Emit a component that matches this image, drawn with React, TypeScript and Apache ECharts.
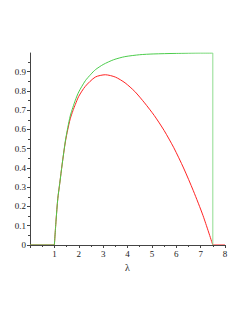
import React, { useEffect, useRef } from "react";
import * as echarts from "echarts";

// green curve (rising part and plateau)
const greenLambda = [1, 1.07, 1.14, 1.22, 1.32, 1.45, 1.55, 1.65, 1.76, 1.86, 2.0, 2.27, 2.5, 2.68, 3.0, 3.43, 3.89, 4.5, 5.05, 6.0, 7.0, 7.5];
const greenValue = [0, 0.13, 0.24, 0.32, 0.42, 0.54, 0.61, 0.67, 0.715, 0.752, 0.795, 0.853, 0.887, 0.91, 0.937, 0.962, 0.978, 0.988, 0.992, 0.995, 0.997, 0.997];
// green vertical drop at the end
const greenDropLambda = [7.5, 7.5];
const greenDropValue = [0.997, 0];

// red curve
const redLambda = [1, 1.07, 1.14, 1.22, 1.32, 1.45, 1.55, 1.65, 1.76, 1.86, 2.0, 2.27, 2.68, 3.09, 3.5, 3.9, 4.3, 4.7, 5.1, 5.5, 5.9, 6.3, 6.7, 7.1, 7.5];
const redValue = [0, 0.13, 0.24, 0.32, 0.42, 0.535, 0.6, 0.655, 0.697, 0.73, 0.772, 0.824, 0.872, 0.884, 0.872, 0.842, 0.797, 0.738, 0.672, 0.595, 0.505, 0.4, 0.282, 0.152, 0];

// zero segments along the axis
const zeroLeftLambda = [0, 1];
const zeroRightLambda = [7.5, 8];

const yTickLabels = [0, 0.1, 0.2, 0.3, 0.4, 0.5, 0.6, 0.7, 0.8, 0.9];
const xTickLabels = [1, 2, 3, 4, 5, 6, 7, 8];

const font = "Liberation Serif";
const GREEN = "#4ccc4c";
const RED = "#ff2424";

export default function App() {
  const ref = useRef<HTMLDivElement>(null);
  useEffect(() => {
    const chart = echarts.init(ref.current!, null, { renderer: "svg" });
    const axisColor = "#444";
    const line = (xs: number[], ys: number[], color: string, smooth: number | boolean, z: number) => ({
      type: "line",
      data: xs.map((x, i) => [x, ys[i]]),
      showSymbol: false,
      smooth,
      lineStyle: { color, width: 1 },
      z,
    });
    chart.setOption({
      animation: false,
      grid: { left: 30, right: 20, top: 53, bottom: 72, containLabel: false },
      xAxis: {
        type: "value",
        min: 0,
        max: 8,
        interval: 1,
        z: 6,
        name: "λ",
        nameLocation: "middle",
        nameGap: 17,
        nameTextStyle: { fontFamily: font, fontSize: 10, color: "#222" },
        axisLine: { show: true, onZero: false, lineStyle: { color: axisColor, width: 1 } },
        axisTick: { show: true, length: 3, inside: false, lineStyle: { color: axisColor } },
        minorTick: { show: true, splitNumber: 2, length: 2, lineStyle: { color: axisColor } },
        splitLine: { show: false },
        axisLabel: {
          fontFamily: font,
          fontSize: 9,
          color: "#222",
          margin: 4,
          customValues: xTickLabels,
        },
      },
      yAxis: {
        type: "value",
        min: 0,
        max: 0.997,
        interval: 0.1,
        axisLine: { show: true, onZero: false, lineStyle: { color: axisColor, width: 1 } },
        axisTick: { show: true, length: 3, inside: false, lineStyle: { color: axisColor }, customValues: yTickLabels },
        minorTick: { show: true, splitNumber: 2, length: 2, lineStyle: { color: axisColor } },
        splitLine: { show: false },
        axisLabel: {
          fontFamily: font,
          fontSize: 9,
          color: "#222",
          margin: 4,
          customValues: yTickLabels,
          formatter: (v: number) => String(Math.round(v * 10) / 10),
        },
      },
      series: [
        line(redLambda, redValue, RED, 0.25, 3),
        line(zeroLeftLambda, [0, 0], RED, false, 3),
        line(zeroRightLambda, [0, 0], RED, false, 3),
        line(greenLambda, greenValue, GREEN, 0.25, 4),
        line(greenDropLambda, greenDropValue, "#8fdc8f", false, 4),
        line(zeroLeftLambda, [0, 0], GREEN, false, 4),
      ],
    });
    return () => chart.dispose();
  }, []);
  return (
    <div
      ref={ref}
      style={{ position: "fixed", left: 0, top: 0, width: 245, height: 317, background: "#fff" }}
    />
  );
}
